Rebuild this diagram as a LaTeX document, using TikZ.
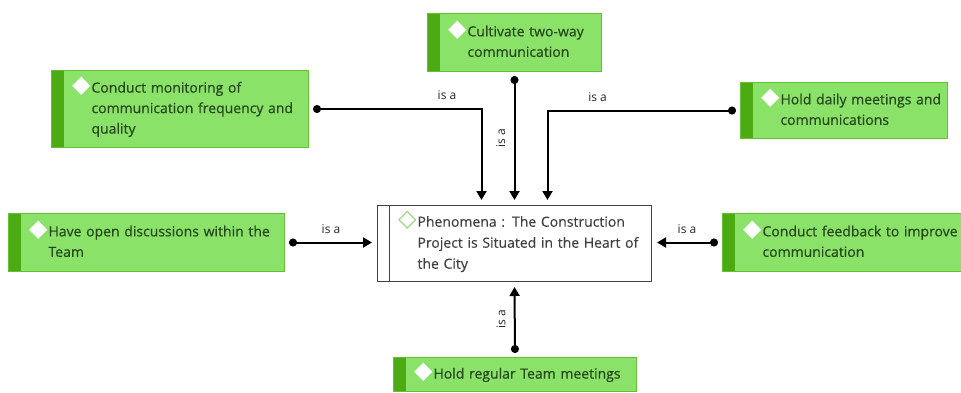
\documentclass[tikz,border=0pt]{standalone}
\usepackage{fontspec}
\setmainfont{Open Sans}
\newfontfamily\conceptfont[FakeBold=0.6]{Open Sans}
\newfontfamily\phenfont[FakeBold=0.25]{Open Sans}
\newfontfamily\symfont{DejaVu Sans}
\usetikzlibrary{arrows.meta}

\definecolor{conceptfill}{RGB}{138,226,104}
\definecolor{conceptstrip}{RGB}{76,170,18}
\definecolor{conceptline}{RGB}{100,192,52}
\definecolor{concepttext}{RGB}{40,72,30}
\definecolor{phentext}{RGB}{64,64,64}
\definecolor{markgreen}{RGB}{150,212,128}

% diamond in front of the first line, the lines stacked behind it
\newcommand{\conceptmark}{\hspace*{34pt}\llap{\smash{\symfont\fontsize{24}{24}\selectfont\color{white}◆}\hspace{1pt}}}
\newcommand{\phenmark}{\hspace*{34pt}\llap{\smash{\symfont\fontsize{24}{24}\selectfont\color{markgreen}◇}\hspace{1pt}}}
\newcommand{\lines}[1]{\begin{tabular}[t]{@{}l@{}}#1\end{tabular}}

\tikzset{
  concept/.style={draw=conceptline, line width=1pt, fill=conceptfill, anchor=north west,
    inner xsep=6pt, inner ysep=0pt, align=left, text=concepttext,
    font=\conceptfont\fontsize{14}{20.5}\selectfont,
    path picture={\fill[conceptstrip] (path picture bounding box.north west)
      rectangle ([xshift=12pt]path picture bounding box.south west);}},
  phenomenon/.style={draw=black!75, line width=1pt, fill=white, anchor=north west,
    inner xsep=6pt, inner ysep=0pt, align=left, text=phentext,
    font=\phenfont\fontsize{14}{21}\selectfont,
    path picture={\draw[black!75, line width=1pt] ([xshift=12pt]path picture bounding box.north west)
      -- ([xshift=12pt]path picture bounding box.south west);}},
  isa/.style={line width=2pt, {Circle[length=8pt]}-{Triangle[length=9pt,width=10pt]},
    shorten <=4pt, shorten >=5pt},
  isalabel/.style={font=\fontsize{12}{13}\selectfont, text=black!85}
}

\begin{document}
\begin{tikzpicture}[x=1pt, y=-1pt]
  \useasboundingbox (0,0) rectangle (961,392);
  \clip (0,0) rectangle (961,392);

  % ==== PHENOMENON ====
  \node[phenomenon, text width=262pt, minimum height=76pt] (phen) at (377,205)
    {\phenmark\lines{Phenomena : The Construction\\Project is Situated in the Heart of\\the City}};

  % ==== CONCEPTS ====
  \node[concept, text width=162pt, minimum height=58pt] (cultivate) at (427,13)
    {\conceptmark\lines{Cultivate two-way\\communication}};
  \node[concept, text width=245pt, minimum height=77pt] (monitor) at (51,70)
    {\conceptmark\lines{Conduct monitoring of\\communication frequency and\\quality}};
  \node[concept, text width=195pt, minimum height=56pt] (daily) at (740,82)
    {\conceptmark\lines{Hold daily meetings and\\communications}};
  \node[concept, text width=264pt, minimum height=58pt] (open) at (8,213)
    {\conceptmark\lines{Have open discussions within the\\Team}};
  \node[concept, text width=268pt, minimum height=58pt] (feedback) at (722,213)
    {\conceptmark\lines{Conduct feedback to improve\\communication}};
  \node[concept, text width=231pt, minimum height=34pt] (regular) at (393,357)
    {\conceptmark\lines{Hold regular Team meetings}};

  % ==== IS A LINKS ====
  \draw[isa] (cultivate.south) -- (phen.north)
    node[isalabel, midway, rotate=90, above=5pt] {is a};
  \draw[isa] (monitor.east) -| ([xshift=-33pt]phen.north)
    node[isalabel, pos=0.4, above=5pt] {is a};
  \draw[isa] (daily.west) -| ([xshift=33pt]phen.north)
    node[isalabel, pos=0.37, above=5pt] {is a};
  \draw[isa] (open.east) -- (open.east -| phen.west)
    node[isalabel, midway, above=5pt] {is a};
  \draw[isa] (feedback.west) -- (feedback.west -| phen.east)
    node[isalabel, midway, above=5pt] {is a};
  \draw[isa] (regular.north) -- (phen.south)
    node[isalabel, midway, rotate=90, above=5pt] {is a};

\end{tikzpicture}
\end{document}
